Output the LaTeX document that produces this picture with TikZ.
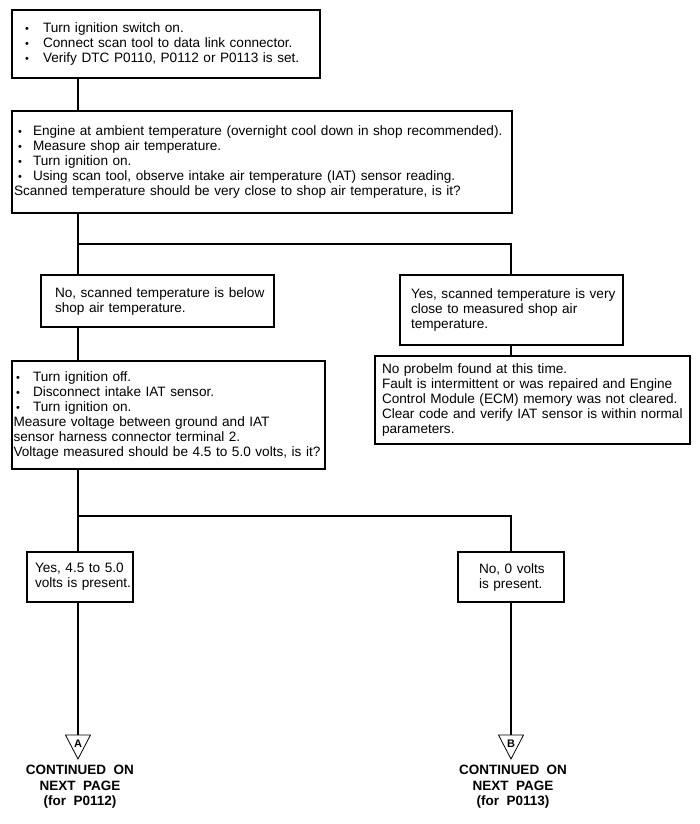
\documentclass[tikz,border=0pt]{standalone}
\usepackage{fontspec}
\setmainfont{Liberation Sans}
\newcommand{\bitem}[3]{\hspace*{#1}\makebox[#2][l]{\scalebox{0.8}{•}}\mbox{#3}}
\begin{document}
\begin{tikzpicture}[x=1bp,y=-1bp,
  box/.style={draw, line width=1.3bp, outer sep=0pt, inner ysep=0pt, anchor=north west, align=left, font=\fontsize{13.6bp}{15bp}\selectfont},
  conn/.style={line width=1.3bp},
  tri/.style={line width=0.8bp},
  letternote/.style={font=\bfseries\fontsize{11bp}{12bp}\selectfont, inner sep=0pt},
  capnote/.style={font=\bfseries\fontsize{13.5bp}{15.5bp}\selectfont, align=center, inner sep=0pt}]
\useasboundingbox (0,0) rectangle (700,824);
\coordinate (sL) at (78,0);
\coordinate (sR) at (511,0);

\node[box, inner xsep=2bp, text width=304bp, minimum height=68bp] (b1) at (12,10) {%
\bitem{11bp}{18bp}{Turn ignition switch on.}\\
\bitem{11bp}{18bp}{Connect scan tool to data link connector.}\\
\bitem{11bp}{18bp}{Verify DTC P0110, P0112 or P0113 is set.}};

\node[box, inner xsep=2bp, text width=496bp, minimum height=102bp] (b2) at (12,111) {%
\bitem{4bp}{15bp}{Engine at ambient temperature (overnight cool down in shop recommended).}\\
\bitem{4bp}{15bp}{Measure shop air temperature.}\\
\bitem{4bp}{15bp}{Turn ignition on.}\\
\bitem{4bp}{15bp}{Using scan tool, observe intake air temperature (IAT) sensor reading.}\\
\mbox{Scanned temperature should be very close to shop air temperature, is it?}};

\node[box, inner xsep=14bp, text width=205bp, minimum height=52bp] (no1) at (41,275) {%
\mbox{No, scanned temperature is below}\\
\mbox{shop air temperature.}};

\node[box, inner xsep=11bp, text width=201bp, minimum height=70bp] (yes1) at (400,275) {%
\mbox{Yes, scanned temperature is very}\\
\mbox{close to measured shop air}\\
\mbox{temperature.}};

\node[box, inner xsep=7bp, text width=301bp, minimum height=88bp] (np) at (375,356) {%
\mbox{No probelm found at this time.}\\
\mbox{Fault is intermittent or was repaired and Engine}\\
\mbox{Control Module (ECM) memory was not cleared.}\\
\mbox{Clear code and verify IAT sensor is within normal}\\
\mbox{parameters.}};

\node[box, inner xsep=1.5bp, text width=310bp, minimum height=108bp] (b4) at (12,361) {%
\bitem{2.5bp}{17bp}{Turn ignition off.}\\
\bitem{2.5bp}{17bp}{Disconnect intake IAT sensor.}\\
\bitem{2.5bp}{17bp}{Turn ignition on.}\\
\mbox{Measure voltage between ground and IAT}\\
\mbox{sensor harness connector terminal 2.}\\
\mbox{Voltage measured should be 4.5 to 5.0 volts, is it?}};

\node[box, inner xsep=8bp, text width=90bp, minimum height=50bp] (y45) at (27,552) {%
\mbox{Yes, 4.5 to 5.0}\\
\mbox{volts is present.}};

\node[box, inner xsep=21bp, text width=64bp, minimum height=50bp] (n0) at (458,552) {%
\mbox{No, 0 volts}\\
\mbox{is present.}};

% connectors
\draw[conn] (b1.south -| sL) -- (b2.north -| sL);
\draw[conn] (b2.south -| sL) -- (no1.north -| sL);
\coordinate (j1) at (78,244);
\draw[conn] (j1) -| (yes1.north -| sR);
\draw[conn] (yes1.south -| sR) -- (np.north -| sR);
\draw[conn] (no1.south -| sL) -- (b4.north -| sL);
\draw[conn] (b4.south -| sL) -- (y45.north -| sL);
\coordinate (j2) at (78,516);
\draw[conn] (j2) -| (n0.north -| sR);

% off-page connectors
\coordinate (tAtop) at (78,735);
\coordinate (tBtop) at (511,735);
\draw[tri] (65.5,735) -- (90.5,735) -- (78,759) -- cycle;
\draw[tri] (498.5,735) -- (523.5,735) -- (511,759) -- cycle;
\draw[conn] (y45.south -| sL) -- (tAtop);
\draw[conn] (n0.south -| sR) -- (tBtop);
\node[letternote] (lA) at (78,743.5) {A};
\node[letternote] (lB) at (511,743.5) {B};
\node[capnote] (cA) at (80,787) {CONTINUED\ \ ON\\NEXT\ \ PAGE\\(for\ \ P0112)};
\node[capnote] (cB) at (513,787) {CONTINUED\ \ ON\\NEXT\ \ PAGE\\(for\ \ P0113)};
\end{tikzpicture}
\end{document}
